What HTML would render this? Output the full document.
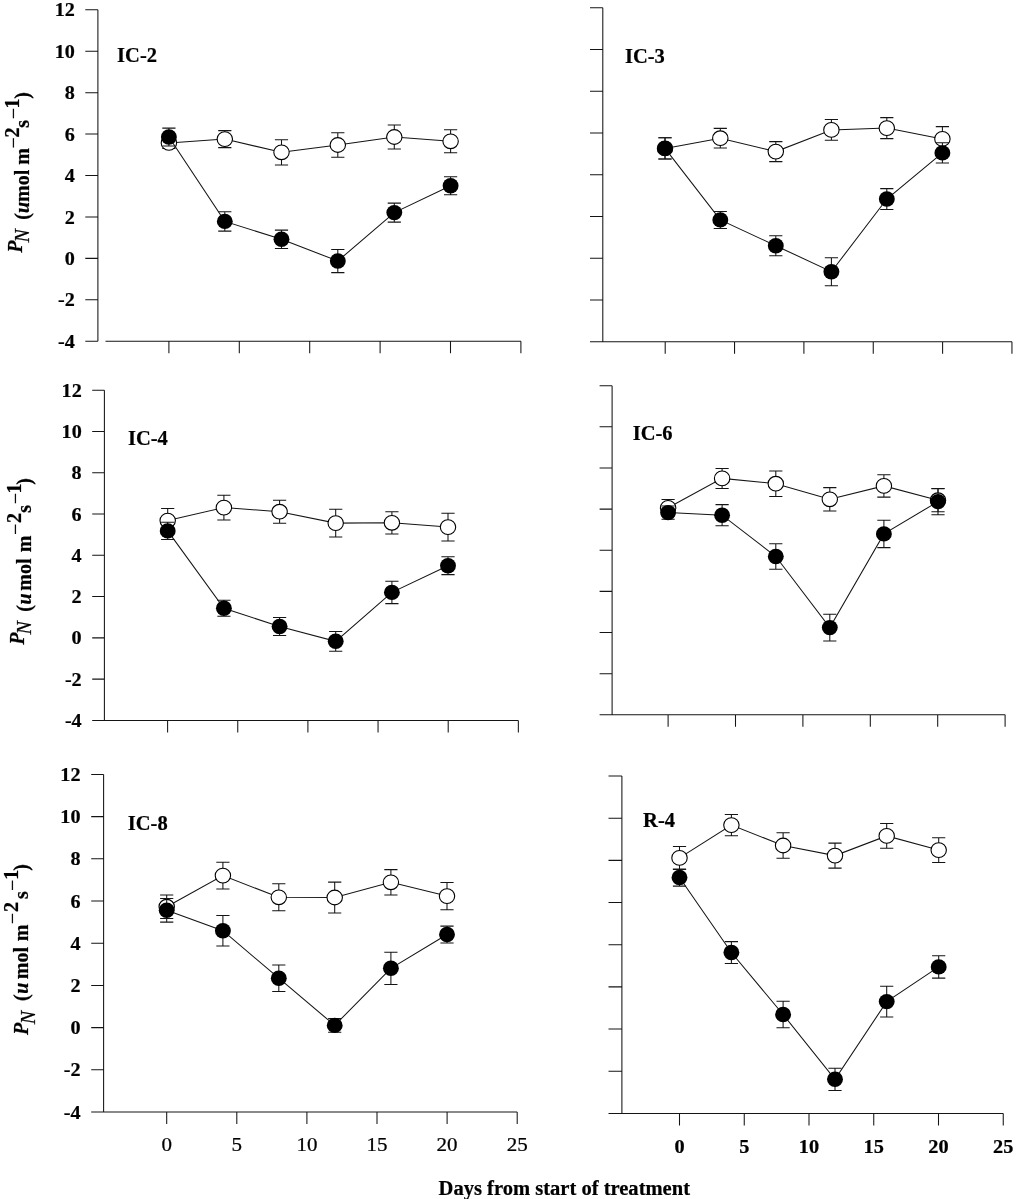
<!DOCTYPE html>
<html lang="en"><head><meta charset="utf-8"><title>Net photosynthesis during treatment</title>
<style>html,body{margin:0;padding:0;background:#fff}svg{display:block}</style></head>
<body>
<svg width="1016" height="1199" viewBox="0 0 1016 1199">
<rect width="1016" height="1199" fill="#fff"/>
<g fill="none" stroke="#141414" stroke-width="1.05" stroke-linecap="butt">
<path d="M97.9 9.8V341.2M85.3 9.8H97.9M85.3 51.22H97.9M85.3 92.65H97.9M85.3 134.07H97.9M85.3 175.5H97.9M85.3 216.93H97.9M85.3 258.35H97.9M85.3 299.77H97.9M85.3 341.2H97.9M105.5 341.2H520.9M168.9 341.2v12M239.3 341.2v12M309.7 341.2v12M380.1 341.2v12M450.5 341.2v12M520.9 341.2v12"/>
<path d="M602.8 7.7V341.8M590 7.7H602.8M590 49.46H602.8M590 91.23H602.8M590 132.99H602.8M590 174.75H602.8M590 216.51H602.8M590 258.28H602.8M590 300.04H602.8M590 341.8H602.8M590 341.8H1012M665.2 341.8v12M734.55 341.8v12M803.9 341.8v12M873.25 341.8v12M942.6 341.8v12M1011.95 341.8v12"/>
<path d="M104.4 390.2V720.4M92.2 390.2H104.4M92.2 431.47H104.4M92.2 472.75H104.4M92.2 514.02H104.4M92.2 555.3H104.4M92.2 596.58H104.4M92.2 637.85H104.4M92.2 679.12H104.4M92.2 720.4H104.4M92.2 720.4H518.3M167.6 720.4v12M237.75 720.4v12M307.9 720.4v12M378.05 720.4v12M448.2 720.4v12M518.35 720.4v12"/>
<path d="M612.1 385.7V714.8M599.6 385.7H612.1M599.6 426.84H612.1M599.6 467.97H612.1M599.6 509.11H612.1M599.6 550.25H612.1M599.6 591.39H612.1M599.6 632.52H612.1M599.6 673.66H612.1M599.6 714.8H612.1M599.6 714.8H1005.2M668.1 714.8v12M735.5 714.8v12M802.9 714.8v12M870.3 714.8v12M937.7 714.8v12M1005.1 714.8v12"/>
<path d="M103.6 774.4V1112M91.2 774.4H103.6M91.2 816.6H103.6M91.2 858.8H103.6M91.2 901H103.6M91.2 943.2H103.6M91.2 985.4H103.6M91.2 1027.6H103.6M91.2 1069.8H103.6M91.2 1112H103.6M91.2 1112H517.2M166.7 1112v12M236.8 1112v12M306.9 1112v12M377 1112v12M447.1 1112v12M517.2 1112v12"/>
<path d="M621.9 776V1113.4M608.5 776H621.9M608.5 818.17H621.9M608.5 860.35H621.9M608.5 902.53H621.9M608.5 944.7H621.9M608.5 986.88H621.9M608.5 1029.05H621.9M608.5 1071.23H621.9M608.5 1113.4H621.9M608.5 1113.4H1003.3M679.5 1113.4v12M744.25 1113.4v12M809 1113.4v12M873.75 1113.4v12M938.5 1113.4v12M1003.25 1113.4v12"/>
</g>
<g fill="none" stroke="#141414" stroke-width="1.05"><polyline points="168.9,142.9 224.8,139.1 281.5,152.3 337.8,145 394.3,137 450.6,141.3"/><path d="M168.9 137.3V148.5M162.3 137.3h13.2M162.3 148.5h13.2M224.8 130.6V147.6M218.2 130.6h13.2M218.2 147.6h13.2M281.5 139.7V164.9M274.9 139.7h13.2M274.9 164.9h13.2M337.8 132.7V157.3M331.2 132.7h13.2M331.2 157.3h13.2M394.3 125V149M387.7 125h13.2M387.7 149h13.2M450.6 129.8V152.8M444 129.8h13.2M444 152.8h13.2"/></g>
<g fill="#fff" stroke="#000" stroke-width="1.1">
<ellipse cx="168.9" cy="142.9" rx="7.7" ry="7.35"/>
<ellipse cx="224.8" cy="139.1" rx="7.7" ry="7.35"/>
<ellipse cx="281.5" cy="152.3" rx="7.7" ry="7.35"/>
<ellipse cx="337.8" cy="145" rx="7.7" ry="7.35"/>
<ellipse cx="394.3" cy="137" rx="7.7" ry="7.35"/>
<ellipse cx="450.6" cy="141.3" rx="7.7" ry="7.35"/>
</g>
<g fill="none" stroke="#141414" stroke-width="1.05"><polyline points="168.9,137 224.8,221.4 281.5,239.3 337.8,261 394.3,212.6 450.6,185.8"/><path d="M168.9 128.1V145.9M162.3 128.1h13.2M162.3 145.9h13.2M224.8 211.7V231.1M218.2 211.7h13.2M218.2 231.1h13.2M281.5 230.1V248.5M274.9 230.1h13.2M274.9 248.5h13.2M337.8 249.4V272.6M331.2 249.4h13.2M331.2 272.6h13.2M394.3 203.1V222.1M387.7 203.1h13.2M387.7 222.1h13.2M450.6 176.8V194.8M444 176.8h13.2M444 194.8h13.2"/></g>
<g fill="#000">
<ellipse cx="168.9" cy="137" rx="7.95" ry="7.7"/>
<ellipse cx="224.8" cy="221.4" rx="7.95" ry="7.7"/>
<ellipse cx="281.5" cy="239.3" rx="7.95" ry="7.7"/>
<ellipse cx="337.8" cy="261" rx="7.95" ry="7.7"/>
<ellipse cx="394.3" cy="212.6" rx="7.95" ry="7.7"/>
<ellipse cx="450.6" cy="185.8" rx="7.95" ry="7.7"/>
</g>
<g fill="none" stroke="#141414" stroke-width="1.05"><polyline points="665,148.4 720.3,138.2 775.8,151.6 831.4,129.9 886.8,128.1 942.4,138.9"/><path d="M665 137.8V159M658.4 137.8h13.2M658.4 159h13.2M720.3 128.4V148M713.7 128.4h13.2M713.7 148h13.2M775.8 141.6V161.6M769.2 141.6h13.2M769.2 161.6h13.2M831.4 119.5V140.3M824.8 119.5h13.2M824.8 140.3h13.2M886.8 117.6V138.6M880.2 117.6h13.2M880.2 138.6h13.2M942.4 126.6V151.2M935.8 126.6h13.2M935.8 151.2h13.2"/></g>
<g fill="#fff" stroke="#000" stroke-width="1.1">
<ellipse cx="665" cy="148.4" rx="7.7" ry="7.35"/>
<ellipse cx="720.3" cy="138.2" rx="7.7" ry="7.35"/>
<ellipse cx="775.8" cy="151.6" rx="7.7" ry="7.35"/>
<ellipse cx="831.4" cy="129.9" rx="7.7" ry="7.35"/>
<ellipse cx="886.8" cy="128.1" rx="7.7" ry="7.35"/>
<ellipse cx="942.4" cy="138.9" rx="7.7" ry="7.35"/>
</g>
<g fill="none" stroke="#141414" stroke-width="1.05"><polyline points="665,148.4 720.3,219.9 775.8,245.7 831.4,271.7 886.8,199 942.4,152.9"/><path d="M665 137.8V159M658.4 137.8h13.2M658.4 159h13.2M720.3 211.4V228.4M713.7 211.4h13.2M713.7 228.4h13.2M775.8 235.7V255.7M769.2 235.7h13.2M769.2 255.7h13.2M831.4 257.7V285.7M824.8 257.7h13.2M824.8 285.7h13.2M886.8 188.6V209.4M880.2 188.6h13.2M880.2 209.4h13.2M942.4 142.8V163M935.8 142.8h13.2M935.8 163h13.2"/></g>
<g fill="#000">
<ellipse cx="665" cy="148.4" rx="7.95" ry="7.7"/>
<ellipse cx="720.3" cy="219.9" rx="7.95" ry="7.7"/>
<ellipse cx="775.8" cy="245.7" rx="7.95" ry="7.7"/>
<ellipse cx="831.4" cy="271.7" rx="7.95" ry="7.7"/>
<ellipse cx="886.8" cy="199" rx="7.95" ry="7.7"/>
<ellipse cx="942.4" cy="152.9" rx="7.95" ry="7.7"/>
</g>
<g fill="none" stroke="#141414" stroke-width="1.05"><polyline points="167.7,520.6 223.9,507.6 279.6,511.7 335.7,523.1 391.9,522.8 448,527.1"/><path d="M167.7 508.5V532.7M161.1 508.5h13.2M161.1 532.7h13.2M223.9 495.3V519.9M217.3 495.3h13.2M217.3 519.9h13.2M279.6 500.2V523.2M273 500.2h13.2M273 523.2h13.2M335.7 509.2V537M329.1 509.2h13.2M329.1 537h13.2M391.9 511.7V533.9M385.3 511.7h13.2M385.3 533.9h13.2M448 513.3V540.9M441.4 513.3h13.2M441.4 540.9h13.2"/></g>
<g fill="#fff" stroke="#000" stroke-width="1.1">
<ellipse cx="167.7" cy="520.6" rx="7.7" ry="7.35"/>
<ellipse cx="223.9" cy="507.6" rx="7.7" ry="7.35"/>
<ellipse cx="279.6" cy="511.7" rx="7.7" ry="7.35"/>
<ellipse cx="335.7" cy="523.1" rx="7.7" ry="7.35"/>
<ellipse cx="391.9" cy="522.8" rx="7.7" ry="7.35"/>
<ellipse cx="448" cy="527.1" rx="7.7" ry="7.35"/>
</g>
<g fill="none" stroke="#141414" stroke-width="1.05"><polyline points="167.7,530.9 223.9,608.2 279.6,626.5 335.7,641.3 391.9,592.4 448,565.7"/><path d="M167.7 522.3V539.5M161.1 522.3h13.2M161.1 539.5h13.2M223.9 600.2V616.2M217.3 600.2h13.2M217.3 616.2h13.2M279.6 617.5V635.5M273 617.5h13.2M273 635.5h13.2M335.7 631.4V651.2M329.1 631.4h13.2M329.1 651.2h13.2M391.9 581.2V603.6M385.3 581.2h13.2M385.3 603.6h13.2M448 556.8V574.6M441.4 556.8h13.2M441.4 574.6h13.2"/></g>
<g fill="#000">
<ellipse cx="167.7" cy="530.9" rx="7.95" ry="7.7"/>
<ellipse cx="223.9" cy="608.2" rx="7.95" ry="7.7"/>
<ellipse cx="279.6" cy="626.5" rx="7.95" ry="7.7"/>
<ellipse cx="335.7" cy="641.3" rx="7.95" ry="7.7"/>
<ellipse cx="391.9" cy="592.4" rx="7.95" ry="7.7"/>
<ellipse cx="448" cy="565.7" rx="7.95" ry="7.7"/>
</g>
<g fill="none" stroke="#141414" stroke-width="1.05"><polyline points="668.1,507.8 722.1,478.4 775.8,483.7 829.8,499.3 883.9,485.9 938,500.2"/><path d="M668.1 499.4V516.2M661.5 499.4h13.2M661.5 516.2h13.2M722.1 468.4V488.4M715.5 468.4h13.2M715.5 488.4h13.2M775.8 471V496.4M769.2 471h13.2M769.2 496.4h13.2M829.8 487.6V511M823.2 487.6h13.2M823.2 511h13.2M883.9 474.7V497.1M877.3 474.7h13.2M877.3 497.1h13.2M938 488.7V511.7M931.4 488.7h13.2M931.4 511.7h13.2"/></g>
<g fill="#fff" stroke="#000" stroke-width="1.1">
<ellipse cx="668.1" cy="507.8" rx="7.7" ry="7.35"/>
<ellipse cx="722.1" cy="478.4" rx="7.7" ry="7.35"/>
<ellipse cx="775.8" cy="483.7" rx="7.7" ry="7.35"/>
<ellipse cx="829.8" cy="499.3" rx="7.7" ry="7.35"/>
<ellipse cx="883.9" cy="485.9" rx="7.7" ry="7.35"/>
<ellipse cx="938" cy="500.2" rx="7.7" ry="7.35"/>
</g>
<g fill="none" stroke="#141414" stroke-width="1.05"><polyline points="668.1,512.6 722.1,515.2 775.8,556.5 829.8,627.6 883.9,533.9 938,501.6"/><path d="M668.1 505.9V519.3M661.5 505.9h13.2M661.5 519.3h13.2M722.1 504.6V525.8M715.5 504.6h13.2M715.5 525.8h13.2M775.8 543.7V569.3M769.2 543.7h13.2M769.2 569.3h13.2M829.8 614.3V640.9M823.2 614.3h13.2M823.2 640.9h13.2M883.9 520.2V547.6M877.3 520.2h13.2M877.3 547.6h13.2M938 488.4V514.8M931.4 488.4h13.2M931.4 514.8h13.2"/></g>
<g fill="#000">
<ellipse cx="668.1" cy="512.6" rx="7.95" ry="7.7"/>
<ellipse cx="722.1" cy="515.2" rx="7.95" ry="7.7"/>
<ellipse cx="775.8" cy="556.5" rx="7.95" ry="7.7"/>
<ellipse cx="829.8" cy="627.6" rx="7.95" ry="7.7"/>
<ellipse cx="883.9" cy="533.9" rx="7.95" ry="7.7"/>
<ellipse cx="938" cy="501.6" rx="7.95" ry="7.7"/>
</g>
<g fill="none" stroke="#141414" stroke-width="1.05"><polyline points="166.7,906.7 222.9,875.6 278.8,897.3 334.7,897.5 390.9,882.3 447,896.1"/><path d="M166.7 894.9V918.5M160.1 894.9h13.2M160.1 918.5h13.2M222.9 862.2V889M216.3 862.2h13.2M216.3 889h13.2M278.8 883.8V910.8M272.2 883.8h13.2M272.2 910.8h13.2M334.7 882.1V912.9M328.1 882.1h13.2M328.1 912.9h13.2M390.9 869.6V895M384.3 869.6h13.2M384.3 895h13.2M447 882.4V909.8M440.4 882.4h13.2M440.4 909.8h13.2"/></g>
<g fill="#fff" stroke="#000" stroke-width="1.1">
<ellipse cx="166.7" cy="906.7" rx="7.7" ry="7.35"/>
<ellipse cx="222.9" cy="875.6" rx="7.7" ry="7.35"/>
<ellipse cx="278.8" cy="897.3" rx="7.7" ry="7.35"/>
<ellipse cx="334.7" cy="897.5" rx="7.7" ry="7.35"/>
<ellipse cx="390.9" cy="882.3" rx="7.7" ry="7.35"/>
<ellipse cx="447" cy="896.1" rx="7.7" ry="7.35"/>
</g>
<g fill="none" stroke="#141414" stroke-width="1.05"><polyline points="166.7,910.3 222.9,930.7 278.8,978.2 334.7,1025.4 390.9,968.3 447,934.5"/><path d="M166.7 898.5V922.1M160.1 898.5h13.2M160.1 922.1h13.2M222.9 915.4V946M216.3 915.4h13.2M216.3 946h13.2M278.8 964.9V991.5M272.2 964.9h13.2M272.2 991.5h13.2M334.7 1018.6V1032.2M328.1 1018.6h13.2M328.1 1032.2h13.2M390.9 952.2V984.4M384.3 952.2h13.2M384.3 984.4h13.2M447 926.1V942.9M440.4 926.1h13.2M440.4 942.9h13.2"/></g>
<g fill="#000">
<ellipse cx="166.7" cy="910.3" rx="7.95" ry="7.7"/>
<ellipse cx="222.9" cy="930.7" rx="7.95" ry="7.7"/>
<ellipse cx="278.8" cy="978.2" rx="7.95" ry="7.7"/>
<ellipse cx="334.7" cy="1025.4" rx="7.95" ry="7.7"/>
<ellipse cx="390.9" cy="968.3" rx="7.95" ry="7.7"/>
<ellipse cx="447" cy="934.5" rx="7.95" ry="7.7"/>
</g>
<g fill="none" stroke="#141414" stroke-width="1.05"><polyline points="679.5,857.9 731.4,825.1 783.1,845.5 835,855.6 886.7,835.9 938.7,850.1"/><path d="M679.5 846.4V869.4M672.9 846.4h13.2M672.9 869.4h13.2M731.4 814.5V835.7M724.8 814.5h13.2M724.8 835.7h13.2M783.1 832.7V858.3M776.5 832.7h13.2M776.5 858.3h13.2M835 843.1V868.1M828.4 843.1h13.2M828.4 868.1h13.2M886.7 823.5V848.3M880.1 823.5h13.2M880.1 848.3h13.2M938.7 837.8V862.4M932.1 837.8h13.2M932.1 862.4h13.2"/></g>
<g fill="#fff" stroke="#000" stroke-width="1.1">
<ellipse cx="679.5" cy="857.9" rx="7.7" ry="7.35"/>
<ellipse cx="731.4" cy="825.1" rx="7.7" ry="7.35"/>
<ellipse cx="783.1" cy="845.5" rx="7.7" ry="7.35"/>
<ellipse cx="835" cy="855.6" rx="7.7" ry="7.35"/>
<ellipse cx="886.7" cy="835.9" rx="7.7" ry="7.35"/>
<ellipse cx="938.7" cy="850.1" rx="7.7" ry="7.35"/>
</g>
<g fill="none" stroke="#141414" stroke-width="1.05"><polyline points="679.5,877.5 731.4,952.5 783.1,1014.5 835,1079.3 886.7,1001.6 938.7,966.9"/><path d="M679.5 868.9V886.1M672.9 868.9h13.2M672.9 886.1h13.2M731.4 941.6V963.4M724.8 941.6h13.2M724.8 963.4h13.2M783.1 1001.3V1027.7M776.5 1001.3h13.2M776.5 1027.7h13.2M835 1068.2V1090.4M828.4 1068.2h13.2M828.4 1090.4h13.2M886.7 986.2V1017M880.1 986.2h13.2M880.1 1017h13.2M938.7 955.7V978.1M932.1 955.7h13.2M932.1 978.1h13.2"/></g>
<g fill="#000">
<ellipse cx="679.5" cy="877.5" rx="7.95" ry="7.7"/>
<ellipse cx="731.4" cy="952.5" rx="7.95" ry="7.7"/>
<ellipse cx="783.1" cy="1014.5" rx="7.95" ry="7.7"/>
<ellipse cx="835" cy="1079.3" rx="7.95" ry="7.7"/>
<ellipse cx="886.7" cy="1001.6" rx="7.95" ry="7.7"/>
<ellipse cx="938.7" cy="966.9" rx="7.95" ry="7.7"/>
</g>
<g font-family="'Liberation Serif', 'Times New Roman', serif" fill="#000" stroke="#000" stroke-width="0.22">
<text transform="translate(117.1 62.2) scale(1.025 1)" font-size="20" font-weight="bold">IC-2</text>
<text transform="translate(74.9 16.4) scale(1.05 1)" font-size="19.2" font-weight="bold" text-anchor="end">12</text>
<text transform="translate(74.9 57.82) scale(1.05 1)" font-size="19.2" font-weight="bold" text-anchor="end">10</text>
<text transform="translate(74.9 99.25) scale(1.05 1)" font-size="19.2" font-weight="bold" text-anchor="end">8</text>
<text transform="translate(74.9 140.67) scale(1.05 1)" font-size="19.2" font-weight="bold" text-anchor="end">6</text>
<text transform="translate(74.9 182.1) scale(1.05 1)" font-size="19.2" font-weight="bold" text-anchor="end">4</text>
<text transform="translate(74.9 223.53) scale(1.05 1)" font-size="19.2" font-weight="bold" text-anchor="end">2</text>
<text transform="translate(74.9 264.95) scale(1.05 1)" font-size="19.2" font-weight="bold" text-anchor="end">0</text>
<text transform="translate(74.9 306.38) scale(1.05 1)" font-size="19.2" font-weight="bold" text-anchor="end">-2</text>
<text transform="translate(74.9 347.8) scale(1.05 1)" font-size="19.2" font-weight="bold" text-anchor="end">-4</text>
<text transform="translate(625 62.7) scale(1.025 1)" font-size="20" font-weight="bold">IC-3</text>
<text transform="translate(128 445.2) scale(1.025 1)" font-size="20" font-weight="bold">IC-4</text>
<text transform="translate(81.7 396.8) scale(1.05 1)" font-size="19.2" font-weight="bold" text-anchor="end">12</text>
<text transform="translate(81.7 438.07) scale(1.05 1)" font-size="19.2" font-weight="bold" text-anchor="end">10</text>
<text transform="translate(81.7 479.35) scale(1.05 1)" font-size="19.2" font-weight="bold" text-anchor="end">8</text>
<text transform="translate(81.7 520.62) scale(1.05 1)" font-size="19.2" font-weight="bold" text-anchor="end">6</text>
<text transform="translate(81.7 561.9) scale(1.05 1)" font-size="19.2" font-weight="bold" text-anchor="end">4</text>
<text transform="translate(81.7 603.18) scale(1.05 1)" font-size="19.2" font-weight="bold" text-anchor="end">2</text>
<text transform="translate(81.7 644.45) scale(1.05 1)" font-size="19.2" font-weight="bold" text-anchor="end">0</text>
<text transform="translate(81.7 685.73) scale(1.05 1)" font-size="19.2" font-weight="bold" text-anchor="end">-2</text>
<text transform="translate(81.7 727) scale(1.05 1)" font-size="19.2" font-weight="bold" text-anchor="end">-4</text>
<text transform="translate(632.7 440.2) scale(1.025 1)" font-size="20" font-weight="bold">IC-6</text>
<text transform="translate(127.8 829.7) scale(1.025 1)" font-size="20" font-weight="bold">IC-8</text>
<text transform="translate(80.5 781) scale(1.05 1)" font-size="19.2" font-weight="bold" text-anchor="end">12</text>
<text transform="translate(80.5 823.2) scale(1.05 1)" font-size="19.2" font-weight="bold" text-anchor="end">10</text>
<text transform="translate(80.5 865.4) scale(1.05 1)" font-size="19.2" font-weight="bold" text-anchor="end">8</text>
<text transform="translate(80.5 907.6) scale(1.05 1)" font-size="19.2" font-weight="bold" text-anchor="end">6</text>
<text transform="translate(80.5 949.8) scale(1.05 1)" font-size="19.2" font-weight="bold" text-anchor="end">4</text>
<text transform="translate(80.5 992) scale(1.05 1)" font-size="19.2" font-weight="bold" text-anchor="end">2</text>
<text transform="translate(80.5 1034.2) scale(1.05 1)" font-size="19.2" font-weight="bold" text-anchor="end">0</text>
<text transform="translate(80.5 1076.4) scale(1.05 1)" font-size="19.2" font-weight="bold" text-anchor="end">-2</text>
<text transform="translate(80.5 1118.6) scale(1.05 1)" font-size="19.2" font-weight="bold" text-anchor="end">-4</text>
<text transform="translate(166.7 1151.2) scale(1.09 1)" font-size="19.3" font-weight="normal" text-anchor="middle">0</text>
<text transform="translate(236.8 1151.2) scale(1.09 1)" font-size="19.3" font-weight="normal" text-anchor="middle">5</text>
<text transform="translate(306.9 1151.2) scale(1.09 1)" font-size="19.3" font-weight="normal" text-anchor="middle">10</text>
<text transform="translate(377 1151.2) scale(1.09 1)" font-size="19.3" font-weight="normal" text-anchor="middle">15</text>
<text transform="translate(447.1 1151.2) scale(1.09 1)" font-size="19.3" font-weight="normal" text-anchor="middle">20</text>
<text transform="translate(517.2 1151.2) scale(1.09 1)" font-size="19.3" font-weight="normal" text-anchor="middle">25</text>
<text transform="translate(643.1 827.3) scale(1.025 1)" font-size="20" font-weight="bold">R-4</text>
<text transform="translate(679.5 1153) scale(1.07 1)" font-size="19" font-weight="bold" text-anchor="middle">0</text>
<text transform="translate(744.25 1153) scale(1.07 1)" font-size="19" font-weight="bold" text-anchor="middle">5</text>
<text transform="translate(809 1153) scale(1.07 1)" font-size="19" font-weight="bold" text-anchor="middle">10</text>
<text transform="translate(873.75 1153) scale(1.07 1)" font-size="19" font-weight="bold" text-anchor="middle">15</text>
<text transform="translate(938.5 1153) scale(1.07 1)" font-size="19" font-weight="bold" text-anchor="middle">20</text>
<text transform="translate(1003.25 1153) scale(1.07 1)" font-size="19" font-weight="bold" text-anchor="middle">25</text>
<text transform="translate(28.5 253.3) rotate(-90)" font-size="20" font-weight="bold"><tspan x="0.5" y="-6.8" font-style="italic">P</tspan><tspan x="10.9" y="0" font-style="italic" font-weight="normal">N</tspan><tspan x="33.6" y="0">(</tspan><tspan x="40.3" y="0" font-style="italic">u</tspan><tspan x="51.4" y="0">mol m</tspan><tspan x="104.8" y="-8.7" font-weight="normal">−</tspan><tspan x="115.8" y="-9.7">2</tspan><tspan x="125.6" y="0">s</tspan><tspan x="134" y="-8.7" font-weight="normal">−</tspan><tspan x="144.8" y="-9.7">1</tspan><tspan x="154.5" y="0">)</tspan></text>
<text transform="translate(30.5 645.3) rotate(-90)" font-size="20" font-weight="bold"><tspan x="0.5" y="-6.8" font-style="italic">P</tspan><tspan x="10.9" y="0" font-style="italic" font-weight="normal">N</tspan><tspan x="33.5" y="0">(</tspan><tspan x="40.7" y="0" font-style="italic">u</tspan><tspan x="54.6" y="0">mol</tspan><tspan x="93" y="0">m</tspan><tspan x="110.2" y="-8.7" font-weight="normal">−</tspan><tspan x="122.2" y="-9.7">2</tspan><tspan x="132.6" y="0">s</tspan><tspan x="141.1" y="-8.7" font-weight="normal">−</tspan><tspan x="151.8" y="-9.7">1</tspan><tspan x="160.6" y="0">)</tspan></text>
<text transform="translate(27.9 1035.4) rotate(-90)" font-size="20" font-weight="bold"><tspan x="0.5" y="0" font-style="italic">P</tspan><tspan x="11.2" y="6.8" font-style="italic" font-weight="normal">N</tspan><tspan x="34.5" y="0">(</tspan><tspan x="41.7" y="0" font-style="italic">u</tspan><tspan x="56.2" y="0">mol</tspan><tspan x="94.2" y="0">m</tspan><tspan x="111.1" y="-8.7" font-weight="normal">−</tspan><tspan x="123.3" y="-9.7">2</tspan><tspan x="136.3" y="0">s</tspan><tspan x="144.5" y="-8.7" font-weight="normal">−</tspan><tspan x="155.6" y="-9.7">1</tspan><tspan x="164.7" y="0">)</tspan></text>
<text x="438.6" y="1194.6" font-size="20" font-weight="bold" textLength="251.4" lengthAdjust="spacingAndGlyphs">Days from start of treatment</text>
</g>
</svg>
</body></html>
